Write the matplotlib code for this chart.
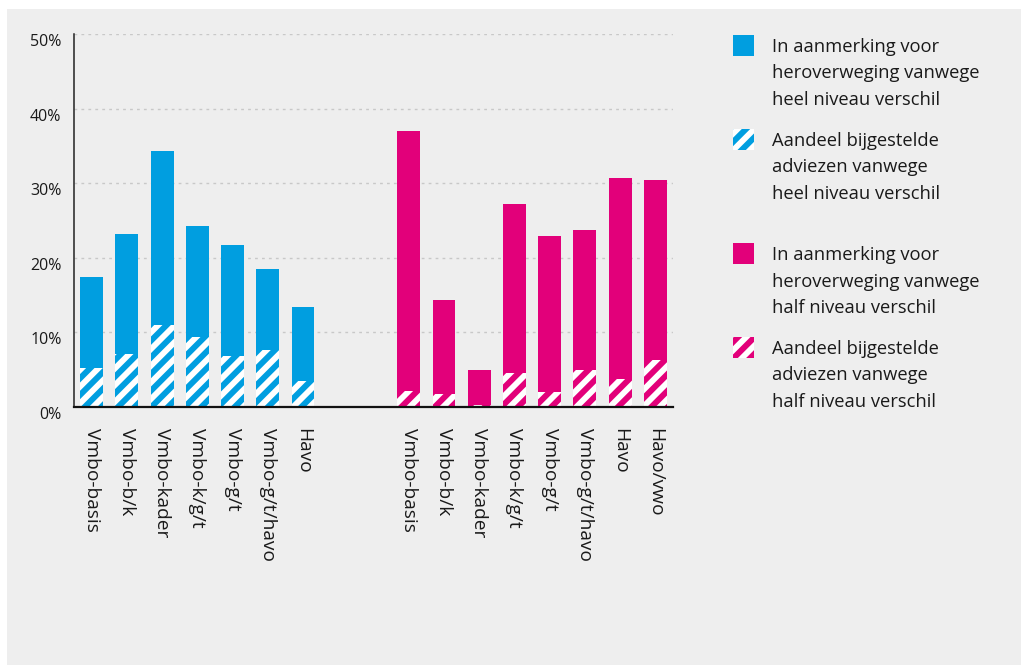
import numpy as np
import matplotlib
matplotlib.use('Agg')
import matplotlib.pyplot as plt
from matplotlib.patches import Rectangle

plt.rcParams['font.family'] = ['Open Sans', 'DejaVu Sans']
plt.rcParams['hatch.linewidth'] = 4.2

# Data (percentages)
labels_heel = ['Vmbo-basis', 'Vmbo-b/k', 'Vmbo-kader', 'Vmbo-k/g/t', 'Vmbo-g/t', 'Vmbo-g/t/havo', 'Havo']
heel_totaal = [17.4, 23.2, 34.4, 24.3, 21.7, 18.5, 13.4]
heel_bijgesteld = [5.2, 7.1, 11.0, 9.4, 6.8, 7.6, 3.5]

labels_half = ['Vmbo-basis', 'Vmbo-b/k', 'Vmbo-kader', 'Vmbo-k/g/t', 'Vmbo-g/t', 'Vmbo-g/t/havo', 'Havo', 'Havo/vwo']
half_totaal = [37.0, 14.3, 4.9, 27.2, 22.9, 23.8, 30.7, 30.5]
half_bijgesteld = [2.1, 1.7, 0.3, 4.5, 2.0, 4.9, 3.7, 6.3]

y_ticks = [0, 10, 20, 30, 40, 50]

legend_items = [
    ('In aanmerking voor\nheroverweging vanwege\nheel niveau verschil', 'blauw', False),
    ('Aandeel bijgestelde\nadviezen vanwege\nheel niveau verschil', 'blauw', True),
    ('In aanmerking voor\nheroverweging vanwege\nhalf niveau verschil', 'roze', False),
    ('Aandeel bijgestelde\nadviezen vanwege\nhalf niveau verschil', 'roze', True),
]

kleuren = {'blauw': '#009EE0', 'roze': '#E2007A'}
bg = '#EEEEEE'
W, H = 1021, 665

fig = plt.figure(figsize=(W / 100, H / 100), dpi=100, facecolor='white')
# grijs vlak (bovenrand en linkerrand blijven wit)
fig.add_artist(Rectangle((7 / W, 0), 1 - 7 / W, 1 - 9 / H, transform=fig.transFigure,
                         facecolor=bg, edgecolor='none', zorder=0))

ax = fig.add_axes([74 / W, 1 - 407 / H, (673 - 74) / W, (407 - 34.3) / H])
ax.set_facecolor('none')

x_heel = np.arange(len(labels_heel))
x_half = np.arange(len(labels_half)) + len(labels_heel) + 2
breedte = 0.65

ax.bar(x_heel, heel_totaal, width=breedte, color=kleuren['blauw'], linewidth=0, zorder=3)
ax.bar(x_heel, heel_bijgesteld, width=breedte, facecolor=kleuren['blauw'], edgecolor='white',
       hatch='//', linewidth=0, zorder=4)
ax.bar(x_half, half_totaal, width=breedte, color=kleuren['roze'], linewidth=0, zorder=3)
ax.bar(x_half, half_bijgesteld, width=breedte, facecolor=kleuren['roze'], edgecolor='white',
       hatch='//', linewidth=0, zorder=4)

ax.set_xlim(-0.5, x_half[-1] + 0.5)
ax.set_ylim(0, 50)
ax.set_yticks(y_ticks)
ax.set_yticklabels([f'{t}%' for t in y_ticks], fontsize=11.5, color='#1a1a1a', va='top')
ax.set_xticks(np.concatenate([x_heel, x_half]))
ax.set_xticklabels(labels_heel + labels_half, rotation=270, fontsize=13.8, color='#1a1a1a')
ax.tick_params(axis='both', length=0)
ax.tick_params(axis='y', pad=9)
ax.tick_params(axis='x', pad=15)

for t in y_ticks[1:]:
    ax.axhline(t, color='#c8c8c8', linewidth=1.0, linestyle=(0, (2, 3)), zorder=1)

for s in ['top', 'right']:
    ax.spines[s].set_visible(False)
ax.spines['left'].set_color('#222222')
ax.spines['left'].set_linewidth(1.1)
ax.spines['bottom'].set_color('#111111')
ax.spines['bottom'].set_linewidth(1.6)
ax.spines['bottom'].set_zorder(5)

# legenda
blok_top = [35, 129, 243, 337]
for (tekst, kleur, gearceerd), top in zip(legend_items, blok_top):
    fig.add_artist(Rectangle((733 / W, 1 - (top + 21) / H), 21 / W, 21 / H, transform=fig.transFigure,
                             facecolor=kleuren[kleur], edgecolor='white' if gearceerd else 'none',
                             hatch='//' if gearceerd else None, linewidth=0, zorder=2))
    for i, regel in enumerate(tekst.split('\n')):
        fig.text(772 / W, 1 - (top + 17 + i * 26.5) / H, regel, fontsize=13.2, color='#1a1a1a',
                 va='baseline', ha='left')

fig.savefig('out.png', dpi=100, facecolor=fig.get_facecolor())
